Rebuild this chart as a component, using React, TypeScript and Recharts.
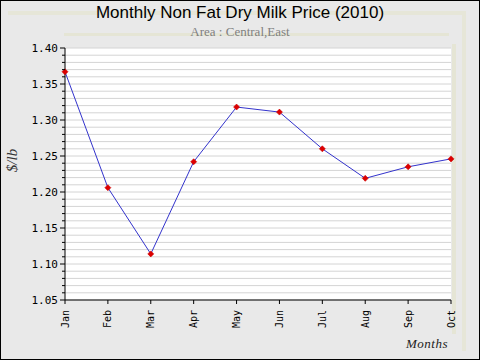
import { LineChart, Line, XAxis, YAxis, CartesianGrid } from 'recharts';

const months = ['Jan', 'Feb', 'Mar', 'Apr', 'May', 'Jun', 'Jul', 'Aug', 'Sep', 'Oct'];
const prices = [1.367, 1.206, 1.114, 1.242, 1.318, 1.311, 1.260, 1.219, 1.235, 1.246];

const data = months.map((m, i) => ({ month: m, price: prices[i] }));

// ticks every 0.01, labels on each 0.05
const yTicks: number[] = [];
for (let i = 105; i <= 140; i++) yTicks.push(i / 100);

const mono = '"DejaVu Sans Mono", "Liberation Mono", monospace';
const serif = '"Liberation Serif", "DejaVu Serif", serif';

function Star(props: any) {
    const { cx, cy } = props;
    if (cx == null || cy == null) return null;
    return (
        <path
            d={`M${cx - 3},${cy} L${cx},${cy - 3} L${cx + 3},${cy} L${cx},${cy + 3} Z`}
            fill="#dd0000"
            stroke="#cc0000"
            strokeWidth={0.6}
        />
    );
}

function XTick(props: any) {
    const { x, y, payload } = props;
    return (
        <text
            x={x}
            y={y + 4}
            transform={`rotate(-90 ${x} ${y + 4})`}
            textAnchor="end"
            dominantBaseline="central"
            fontFamily={mono}
            fontSize={10}
            fill="#000"
        >
            {payload.value}
        </text>
    );
}

function YTick(props: any) {
    const { x, y, payload } = props;
    const cents = Math.round(payload.value * 100);
    const major = cents % 5 === 0;
    return (
        <g>
            <line x1={x - (major ? 5 : 3)} y1={y} x2={x} y2={y} stroke="#000" />
            {major && (
                <text x={x - 7} y={y} textAnchor="end" dominantBaseline="central" fontFamily={mono} fontSize={11} fill="#000">
                    {payload.value.toFixed(2)}
                </text>
            )}
        </g>
    );
}

export default function App() {
    return (
        <div style={{ position: 'fixed', left: 0, top: 0, width: 480, height: 360 }}>
            <div style={{ position: 'absolute', left: 0, top: 0, width: 478, height: 358, border: '1px solid #000', background: '#e9e9e9' }} />
            {/* faint decorative bands */}
            <div style={{ position: 'absolute', left: 8, top: 11, width: 455, height: 4, background: '#e6e6d8' }} />
            <div style={{ position: 'absolute', left: 462, top: 11, width: 4, height: 340, background: '#e6e6d8' }} />
            <div style={{ position: 'absolute', left: 64, top: 33, width: 385, height: 3, background: '#e5e5d5' }} />
            <div style={{ position: 'absolute', left: 452, top: 44, width: 4, height: 290, background: '#e5e5d5' }} />
            <div style={{ position: 'absolute', left: 0, top: 3, width: 480, textAlign: 'center', fontFamily: 'Arial, "Liberation Sans", sans-serif', fontSize: 17, color: '#000' }}>
                Monthly Non Fat Dry Milk Price (2010)
            </div>
            <div style={{ position: 'absolute', left: 0, top: 24, width: 480, textAlign: 'center', fontFamily: serif, fontSize: 13, color: '#808080' }}>
                Area : Central,East
            </div>
            <div style={{ position: 'absolute', left: 2, top: 152, width: 20, height: 20 }}>
                <div style={{ transform: 'rotate(-90deg)', fontFamily: serif, fontStyle: 'italic', fontSize: 15, color: '#333', whiteSpace: 'nowrap', width: 30, textAlign: 'center', marginLeft: -5 }}>
                    $/lb
                </div>
            </div>
            <div style={{ position: 'absolute', left: 406, top: 336, fontFamily: serif, fontStyle: 'italic', fontSize: 13, color: '#222', letterSpacing: 0.5 }}>
                Months
            </div>
            <div style={{ position: 'absolute', left: 0, top: 0 }}>
                <LineChart width={480} height={360} data={data} margin={{ top: 48, right: 29, bottom: 0, left: 0 }}>
                    <CartesianGrid
                        vertical={false}
                        stroke="#d4d4d4"
                        strokeWidth={1}
                        fill="#ffffff"
                        fillOpacity={1}
                    />
                    <XAxis
                        dataKey="month"
                        height={60}
                        stroke="#000"
                        tickSize={4}
                        tick={<XTick />}
                        interval={0}
                        padding={{ left: 0, right: 0 }}
                    />
                    <YAxis
                        width={65}
                        domain={[1.05, 1.4]}
                        ticks={yTicks}
                        interval={0}
                        allowDataOverflow
                        stroke="#000"
                        tickLine={false}
                        tickSize={0}
                        tickMargin={0}
                        tick={<YTick />}
                    />
                    <Line
                        type="linear"
                        dataKey="price"
                        stroke="#3333cc"
                        strokeWidth={1}
                        dot={<Star />}
                        activeDot={false}
                        isAnimationActive={false}
                    />
                </LineChart>
            </div>
        </div>
    );
}
